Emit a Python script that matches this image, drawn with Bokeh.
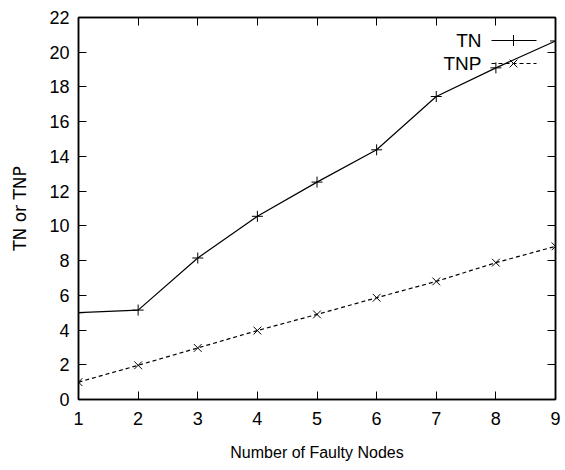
from bokeh.plotting import figure
from bokeh.models import Range1d, LinearAxis, FixedTicker
from bokeh.core.properties import value
from bokeh.embed import file_html
from bokeh.resources import INLINE

faulty_nodes = [1, 2, 3, 4, 5, 6, 7, 8, 9]
tn = [5.0, 5.15, 8.15, 10.55, 12.52, 14.38, 17.45, 19.1, 20.65]
tnp = [1.0, 1.97, 2.97, 3.97, 4.9, 5.86, 6.8, 7.88, 8.82]
x_ticks = [1, 2, 3, 4, 5, 6, 7, 8, 9]
y_ticks = [0, 2, 4, 6, 8, 10, 12, 14, 16, 18, 20, 22]
series_names = ["TN", "TNP"]

FONT = "Liberation Sans"

p = figure(width=565, height=470, output_backend="svg", toolbar_location=None,
           x_range=Range1d(1, 9), y_range=Range1d(0, 22),
           min_border_left=78, min_border_right=10, min_border_top=17, min_border_bottom=71,
           x_axis_label="Number of Faulty Nodes", y_axis_label="TN or TNP")
p.grid.visible = False
p.outline_line_color = "black"
p.outline_line_width = 1.5
p.background_fill_color = "white"
p.border_fill_color = "white"

def style_axis(ax, ticks, show_labels=True, standoff=6):
    ax.ticker = FixedTicker(ticks=ticks)
    ax.major_tick_in = 8
    ax.major_tick_out = 0
    ax.minor_tick_line_color = None
    ax.axis_line_color = "black"
    ax.axis_line_width = 1.5
    ax.major_tick_line_color = "black"
    ax.major_tick_line_width = 1
    ax.major_label_text_font = FONT
    ax.major_label_text_font_size = "18px"
    ax.major_label_text_color = "black"
    ax.major_label_standoff = standoff
    ax.axis_label_text_color = "black"
    if not show_labels:
        ax.major_label_overrides = {t: "" for t in ticks}
        ax.major_label_standoff = 0

style_axis(p.xaxis[0], x_ticks, standoff=12)
style_axis(p.yaxis[0], y_ticks, standoff=9)
p.xaxis[0].axis_label_text_font = FONT
p.xaxis[0].axis_label_text_font_size = "16px"
p.xaxis[0].axis_label_text_font_style = "normal"
p.xaxis[0].axis_label_standoff = 16
p.yaxis[0].axis_label_text_font = "DejaVu Sans"
p.yaxis[0].axis_label_text_font_size = "17px"
p.yaxis[0].axis_label_text_font_style = "normal"
p.yaxis[0].axis_label_standoff = 16

top_ax = LinearAxis()
style_axis(top_ax, x_ticks, show_labels=False)
p.add_layout(top_ax, "above")
right_ax = LinearAxis()
style_axis(right_ax, y_ticks, show_labels=False)
p.add_layout(right_ax, "right")

p.line(faulty_nodes, tn, line_color="black", line_width=1.2)
p.scatter(faulty_nodes, tn, marker="cross", size=11, line_color="black", line_width=1)
p.line(faulty_nodes, tnp, line_color="black", line_width=1.2, line_dash="4 3")
p.scatter(faulty_nodes, tnp, marker="x", size=11, line_color="black", line_width=1)

# legend (manual, gnuplot style: text then sample); pixel -> data conversion
def px_to_x(px):
    return 1 + (px - 78) / (477 / 8)

def py_to_y(py):
    return (399 - py) / (382 / 22)

for name, py, dash, marker in zip(series_names, [40, 63], ["solid", "4 3"], ["cross", "x"]):
    p.text([px_to_x(481)], [py_to_y(py)], text=[name], text_font=value(FONT),
           text_font_size="19px", text_align="right", text_baseline="middle",
           text_color="black")
    p.line([px_to_x(491), px_to_x(536)], [py_to_y(py), py_to_y(py)], line_color="black",
           line_width=1.2, line_dash=dash)
    p.scatter([px_to_x(513)], [py_to_y(py)], marker=marker, size=11, line_color="black")

open("out.html", "w").write(file_html(p, INLINE))
